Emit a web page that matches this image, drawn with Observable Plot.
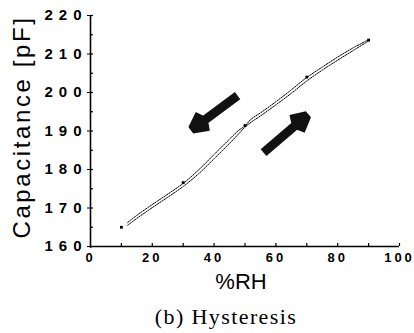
<!DOCTYPE html>
<html><head><meta charset="utf-8">
<script src="https://cdn.jsdelivr.net/npm/d3@7"></script>
<script src="https://cdn.jsdelivr.net/npm/@observablehq/plot@0.6"></script>
<style>
body{margin:0;background:#fff;}
#chart{position:absolute;left:0;top:0;}
#cap{font-family:"Liberation Serif","Times New Roman",serif;font-size:22px;line-height:24px;letter-spacing:1.4px;position:absolute;left:0;top:305px;width:452px;text-align:center;color:#000;}
.hyst g[aria-label="y-axis tick label"] text{letter-spacing:6px;}
.hyst g[aria-label="x-axis tick label"] text{letter-spacing:3px;}
</style></head><body><div id="chart"></div><div id="cap"></div>
<script>
// Ascending humidity (adsorption) branch
const rhAsc  = [12, 15, 20, 25, 30, 35, 40, 45, 48, 50, 52, 55, 60, 65, 70, 75, 80, 85, 90];
const capAsc = [165.5, 167.3, 170.1, 172.8, 175.6, 178.9, 182.8, 186.8, 189.3, 191.0, 192.3, 193.9, 196.8, 199.8, 203.0, 205.8, 208.4, 210.9, 213.4];
// Descending humidity (desorption) branch
const rhDesc  = [12, 15, 20, 25, 30, 35, 40, 45, 48, 50, 52, 55, 60, 65, 70, 75, 80, 85, 90];
const capDesc = [166.2, 168.1, 170.9, 173.6, 176.4, 179.9, 183.9, 187.9, 190.2, 191.3, 193.1, 194.7, 197.6, 200.7, 203.9, 206.6, 209.2, 211.6, 213.7];
// Measurement markers
const markerRH  = [10, 30, 50, 70, 90];
const markerCap = [165.0, 176.6, 191.4, 204.0, 213.6];
// Direction arrows
const arrowFromRH  = [47.6, 56.0];
const arrowFromCap = [199.2, 184.4];
const arrowToRH    = [33.0, 70.0];
const arrowToCap   = [190.5, 194.0];
// Axes
const xTicks = [0, 20, 40, 60, 80, 100];
const xMinorTicks = [10, 20, 30, 40, 50, 60, 70, 80, 90, 100];
const yTicks = [160, 170, 180, 190, 200, 210, 220];
const yMinorTicks = [165, 170, 175, 180, 185, 190, 195, 200, 205, 210, 215, 220];
const xLabel = "%RH";
const yLabel = "Capacitance [pF]";
const caption = "(b) Hysteresis";

const asc = rhAsc.map((x, i) => ({x, y: capAsc[i]}));
const desc = rhDesc.map((x, i) => ({x, y: capDesc[i]}));
const markers = markerRH.map((x, i) => ({x, y: markerCap[i]}));
const arrows = arrowFromRH.map((x1, i) => ({x1, y1: arrowFromCap[i], x2: arrowToRH[i], y2: arrowToCap[i]}));

const chart = Plot.plot({
  width: 414, height: 300,
  marginLeft: 90, marginRight: 15, marginTop: 15, marginBottom: 54,
  className: "hyst",
  x: {domain: [0, 100]},
  y: {domain: [160, 220]},
  style: {fontFamily: "'Liberation Sans', Arial, sans-serif", color: "#000", background: "#fff"},
  marks: [
    Plot.axisX({ticks: xMinorTicks, tickSize: 3, dy: -3, tickFormat: () => "", label: null, strokeWidth: 1.2}),
    Plot.axisX({ticks: xTicks, tickSize: 0, tickPadding: 6, fontSize: 13, fontWeight: "bold", label: null}),
    Plot.axisY({ticks: yMinorTicks, tickSize: 3, dx: 3, tickFormat: () => "", label: null, strokeWidth: 1.2}),
    Plot.axisY({ticks: yTicks, tickSize: 3, tickPadding: 0, fontSize: 15, fontWeight: "bold", label: null}),
    Plot.ruleY([160], {stroke: "#000", strokeWidth: 1.6, x1: 0, x2: 100}),
    Plot.ruleX([0], {stroke: "#000", strokeWidth: 1.6, y1: 159.5, y2: 220}),
    Plot.line(asc, {x: "x", y: "y", stroke: "#000", strokeWidth: 1, strokeDasharray: "1.6,1.2", curve: "catmull-rom"}),
    Plot.line(desc, {x: "x", y: "y", stroke: "#000", strokeWidth: 1, strokeDasharray: "1.6,1.2", curve: "catmull-rom"}),
    Plot.dot(markers, {x: "x", y: "y", r: 1.6, fill: "#000", symbol: "square"}),
    Plot.arrow(arrows, {x1: "x1", y1: "y1", x2: "x2", y2: "y2", stroke: "#111", strokeWidth: 9, headLength: 2.8, headAngle: 55, strokeLinejoin: "miter", strokeLinecap: "butt"}),
    Plot.text([xLabel], {frameAnchor: "bottom", dy: 35, dx: -4, fontSize: 22, text: d => d, lineAnchor: "middle"}),
    Plot.text([yLabel], {frameAnchor: "left", dx: -68, dy: -4, rotate: -90, fontSize: 24, text: d => d, textAnchor: "middle", lineAnchor: "middle"})
  ]
});
document.getElementById("chart").appendChild(chart);
document.getElementById("cap").textContent = caption;
chart.querySelectorAll("text").forEach(t => { if (t.textContent === yLabel) t.style.letterSpacing = "2.6px"; });
</script></body></html>
